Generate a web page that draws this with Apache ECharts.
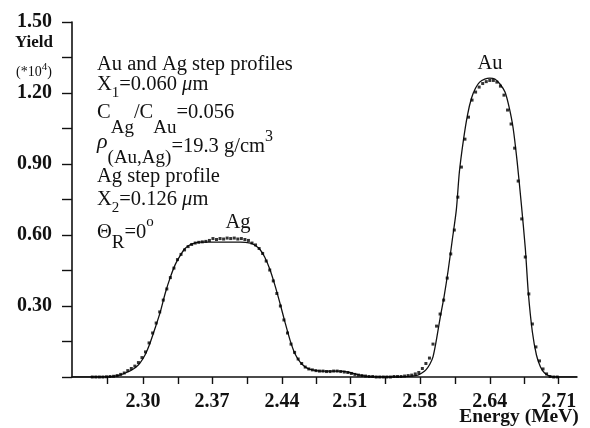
<!DOCTYPE html>
<html>
<head>
<meta charset="utf-8">
<script src="https://cdn.jsdelivr.net/npm/echarts@6/dist/echarts.min.js"></script>
<style>
  html, body { margin: 0; padding: 0; background: #fff; }
  #rbs_yield { width: 590px; height: 428px; }
</style>
</head>
<body>
<div id="rbs_yield"></div>
<script>
  // x axis ticks (MeV) and the labels printed under them
  const tickValues = [2.300, 2.368, 2.437, 2.504, 2.573, 2.642, 2.710];
  const tickLabels = ['2.30', '2.37', '2.44', '2.51', '2.58', '2.64', '2.71'];
  const minorTicks = [2.2645, 2.3345, 2.4025, 2.4705, 2.5385, 2.6075, 2.6755];

  // simulated spectrum (solid line): energy / yield (*10^4)
  const simEnergy = [2.230, 2.258, 2.269, 2.277, 2.285, 2.292, 2.297, 2.302, 2.307, 2.312,
    2.317, 2.322, 2.327, 2.332, 2.337, 2.341, 2.346, 2.351, 2.356, 2.376,
    2.396, 2.406, 2.410, 2.415, 2.420, 2.425, 2.430, 2.435, 2.440, 2.445,
    2.450, 2.455, 2.460, 2.465, 2.475, 2.494, 2.504, 2.514, 2.524, 2.543,
    2.558, 2.565, 2.571, 2.575, 2.579, 2.583, 2.586, 2.589, 2.593, 2.597,
    2.601, 2.605, 2.609, 2.612, 2.616, 2.620, 2.624, 2.628, 2.632, 2.637,
    2.642, 2.647, 2.652, 2.657, 2.661, 2.665, 2.669, 2.673, 2.677, 2.680,
    2.684, 2.688, 2.692, 2.696, 2.701, 2.707, 2.728];
  const simYield = [0, 0, 0.002, 0.008, 0.021, 0.038, 0.059, 0.093, 0.144, 0.207,
    0.274, 0.355, 0.422, 0.477, 0.515, 0.541, 0.558, 0.566, 0.570, 0.570,
    0.570, 0.566, 0.558, 0.541, 0.507, 0.456, 0.389, 0.313, 0.232, 0.156,
    0.097, 0.063, 0.042, 0.032, 0.025, 0.025, 0.019, 0.008, 0.002, 0,
    0.002, 0.004, 0.008, 0.017, 0.030, 0.055, 0.085, 0.148, 0.249, 0.342,
    0.452, 0.579, 0.706, 0.866, 1.001, 1.107, 1.179, 1.221, 1.246, 1.259,
    1.263, 1.259, 1.238, 1.204, 1.141, 1.052, 0.909, 0.735, 0.545, 0.355,
    0.190, 0.093, 0.042, 0.017, 0.004, 0, 0];

  // measured spectrum (dots): channel energy calibration and yields
  const expStart = 2.250;
  const expStep = 0.0035;
  const expYield = [0, 0, 0, 0, 0.001, 0.002, 0.003, 0.006, 0.011, 0.017,
    0.027, 0.036, 0.046, 0.061, 0.082, 0.106, 0.144, 0.186, 0.228, 0.275,
    0.325, 0.372, 0.420, 0.460, 0.496, 0.518, 0.537, 0.551, 0.560, 0.566,
    0.569, 0.571, 0.573, 0.577, 0.585, 0.581, 0.585, 0.583, 0.587, 0.585,
    0.587, 0.583, 0.585, 0.581, 0.577, 0.566, 0.558, 0.543, 0.522, 0.490,
    0.452, 0.406, 0.353, 0.300, 0.241, 0.186, 0.139, 0.104, 0.076, 0.057,
    0.042, 0.034, 0.030, 0.027, 0.025, 0.025, 0.023, 0.023, 0.025, 0.025,
    0.023, 0.021, 0.019, 0.015, 0.011, 0.008, 0.006, 0.004, 0.002, 0.002,
    0, 0, 0, 0, 0, 0.002, 0.002, 0.002, 0.004, 0.006,
    0.008, 0.013, 0.019, 0.036, 0.057, 0.080, 0.139, 0.215, 0.266, 0.325,
    0.418, 0.520, 0.621, 0.760, 0.887, 1.005, 1.098, 1.170, 1.204, 1.225,
    1.240, 1.248, 1.253, 1.253, 1.246, 1.229, 1.191, 1.128, 1.069, 0.967,
    0.828, 0.668, 0.507, 0.351, 0.224, 0.127, 0.068, 0.034, 0.013, 0.002,
    0, 0];

  const ink = '#111';
  const serif = "'Liberation Serif', 'DejaVu Serif', serif";

  const simData = simEnergy.map((e, i) => [e, simYield[i]]);
  const expData = expYield.map((v, i) => [expStart + i * expStep, v]);

  const subRich = {
    s1: { fontSize: 15, fontFamily: serif, padding: [16, 0, 0, 0] },
    sAg: { fontSize: 19, fontFamily: serif, padding: [30, 0, 0, 0] },
    sRho: { fontSize: 19, fontFamily: serif, padding: [22, 0, 0, 0] },
    sR: { fontSize: 19, fontFamily: serif, padding: [20, 0, 0, 0] },
    up3: { fontSize: 16, fontFamily: serif, padding: [0, 0, 20, 0] },
    upO: { fontSize: 15, fontFamily: serif, padding: [0, 0, 22, 0] },
    up4: { fontSize: 11, fontFamily: serif, padding: [0, 0, 10, 0] },
    mu: { fontSize: 20.5, fontFamily: serif, fontStyle: 'italic' },
    rho: { fontSize: 22, fontFamily: serif, fontStyle: 'italic', padding: [0, 0, 10, 0] }
  };

  function note(x, y, text, size, weight, align) {
    return {
      type: 'text',
      x: x,
      y: y,
      silent: true,
      style: {
        text: text,
        fontSize: size,
        fontFamily: serif,
        fontWeight: weight || 'normal',
        fill: ink,
        align: align || 'left',
        textAlign: align || 'left',
        verticalAlign: 'middle',
        textVerticalAlign: 'middle',
        rich: subRich
      }
    };
  }

  const option = {
    animation: false,
    backgroundColor: '#fff',
    grid: {
      left: 72,
      right: 13,
      top: 22,
      bottom: 51,
      containLabel: false
    },
    xAxis: {
      type: 'value',
      min: 2.230,
      max: 2.728,
      splitLine: { show: false },
      axisLine: { lineStyle: { color: ink, width: 1.6 } },
      axisTick: {
        show: true,
        inside: false,
        length: 7,
        customValues: tickValues.concat(minorTicks),
        lineStyle: { color: ink, width: 1.4 }
      },
      axisLabel: {
        margin: 15,
        customValues: tickValues,
        color: ink,
        fontFamily: serif,
        fontWeight: 'bold',
        fontSize: 20,
        formatter: function (v) {
          let best = 0;
          tickValues.forEach((t, i) => {
            if (Math.abs(t - v) < Math.abs(tickValues[best] - v)) best = i;
          });
          return tickLabels[best];
        }
      }
    },
    yAxis: {
      type: 'value',
      min: 0,
      max: 1.5,
      interval: 0.15,
      splitLine: { show: false },
      axisLine: { show: true, lineStyle: { color: ink, width: 1.6 } },
      axisTick: { show: true, inside: false, length: 10, lineStyle: { color: ink, width: 1.4 } },
      axisLabel: {
        margin: 20,
        color: ink,
        fontFamily: serif,
        fontWeight: 'bold',
        fontSize: 20,
        formatter: function (v) {
          const k = Math.round(v * 100);
          return (k > 0 && k % 30 === 0) ? (k / 100).toFixed(2) : '';
        }
      }
    },
    graphic: [
      note(34, 43, 'Yield', 17, 'bold', 'center'),
      note(34, 72, '(*10{up4|4})', 14, 'normal', 'center'),
      note(97, 65, 'Au and Ag step profiles', 20.5),
      note(97, 85, 'X{s1|1}=0.060 {mu|μ}m', 20.5),
      note(97, 113, 'C{sAg|Ag}/C{sAg|Au}=0.056', 20.5),
      note(97, 147, '{rho|ρ}{sRho|(Au,Ag)}=19.3 g/cm{up3|3}', 20.5),
      note(97, 177, 'Ag step profile', 20.5),
      note(97, 200, 'X{s1|2}=0.126 {mu|μ}m', 20.5),
      note(97, 233, 'Θ{sR|R}=0{upO|o}', 20.5),
      note(238, 223, 'Ag', 20.5, 'normal', 'center'),
      note(490, 64, 'Au', 20.5, 'normal', 'center'),
      note(519, 417, 'Energy (MeV)', 19.5, 'bold', 'center')
    ],
    series: [
      {
        name: 'simulation',
        type: 'line',
        data: simData,
        showSymbol: false,
        smooth: 0.25,
        lineStyle: { color: ink, width: 1.3 },
        z: 2
      },
      {
        name: 'experiment',
        type: 'scatter',
        data: expData,
        symbol: 'rect',
        symbolSize: 3,
        itemStyle: { color: '#000' },
        z: 3
      }
    ]
  };

  const yieldChart = echarts.init(document.getElementById('rbs_yield'));
  yieldChart.setOption(option);
  window.addEventListener('resize', function () {
    yieldChart.resize();
  });
</script>
</body>
</html>
